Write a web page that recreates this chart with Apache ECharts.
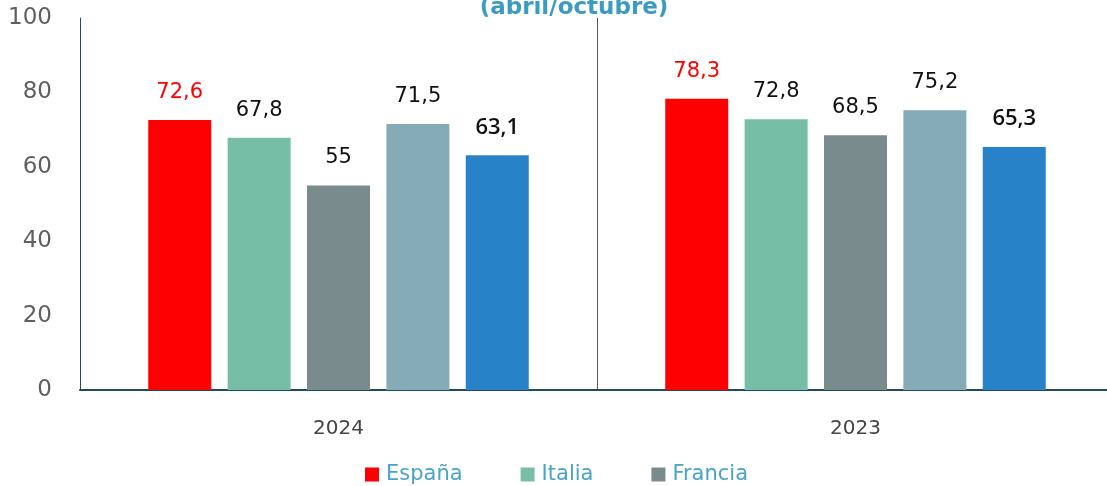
<!DOCTYPE html>
<html>
<head>
<meta charset="utf-8">
<script src="https://cdn.jsdelivr.net/npm/echarts@6/dist/echarts.min.js"></script>
<style>
html, body { margin: 0; padding: 0; background: #fff; }
#chart { width: 1107px; height: 486px; }
</style>
</head>
<body>
<div id="chart"></div>
<script>
var years = ["2024", "2023"];
var espana = [72.6, 78.3];
var italia = [67.8, 72.8];
var francia = [55, 68.5];
var serieD = [71.5, 75.2];
var serieE = [63.1, 65.3];

var chart = echarts.init(document.getElementById("chart"));
var font = "DejaVu Sans";

function fmt(p) {
	return String(p.value).replace(".", ",");
}

function bar(name, data, color, labelColor, bold) {
	return {
		name: name,
		type: "bar",
		data: data,
		barWidth: 63,
		barGap: "26%",
		itemStyle: { color: color },
		label: {
			show: true,
			position: "top",
			distance: 17,
			formatter: fmt,
			color: labelColor,
			fontSize: bold ? 22 : 21,
			fontFamily: bold ? "Open Sans" : font,
			fontWeight: bold ? 600 : "normal"
		}
	};
}

chart.setOption({
	animation: false,
	title: {
		text: "(abril/octubre)",
		left: 569,
		textAlign: "center",
		top: -8,
		textStyle: { color: "#3b9bc2", fontSize: 23, fontWeight: "bold", fontFamily: font }
	},
	legend: {
		data: ["España", "Italia", "Francia"],
		bottom: -4,
		left: 360,
		itemWidth: 14,
		itemHeight: 14,
		itemGap: 58,
		icon: "rect",
		textStyle: { color: "#4ba3c9", fontSize: 21, fontFamily: font, padding: [0, 0, 0, 2] }
	},
	grid: { left: 80, top: 18, width: 1034, height: 372, outerBoundsMode: "none" },
	xAxis: {
		type: "category",
		data: years,
		axisLine: { lineStyle: { color: "#1f4b5e", width: 2 } },
		axisTick: { show: false },
		splitLine: { show: true, lineStyle: { color: "#555", width: 1 } },
		axisLabel: { color: "#444", fontSize: 20, fontFamily: font, margin: 29 }
	},
	yAxis: {
		type: "value",
		min: 0,
		max: 100,
		interval: 20,
		axisLine: { show: true, lineStyle: { color: "#1f4b5e", width: 1 } },
		splitLine: { show: false },
		axisLabel: { color: "#5f5f5f", fontSize: 23, fontFamily: font, margin: 28 }
	},
	series: [
		bar("España", espana, "#ff0000", "#ff0000", false),
		bar("Italia", italia, "#76bea6", "#111", false),
		bar("Francia", francia, "#7a8b8e", "#111", false),
		bar("Serie 4", serieD, "#85abb7", "#111", false),
		bar("Serie 5", serieE, "#2882c8", "#111", true)
	]
});
</script>
</body>
</html>
